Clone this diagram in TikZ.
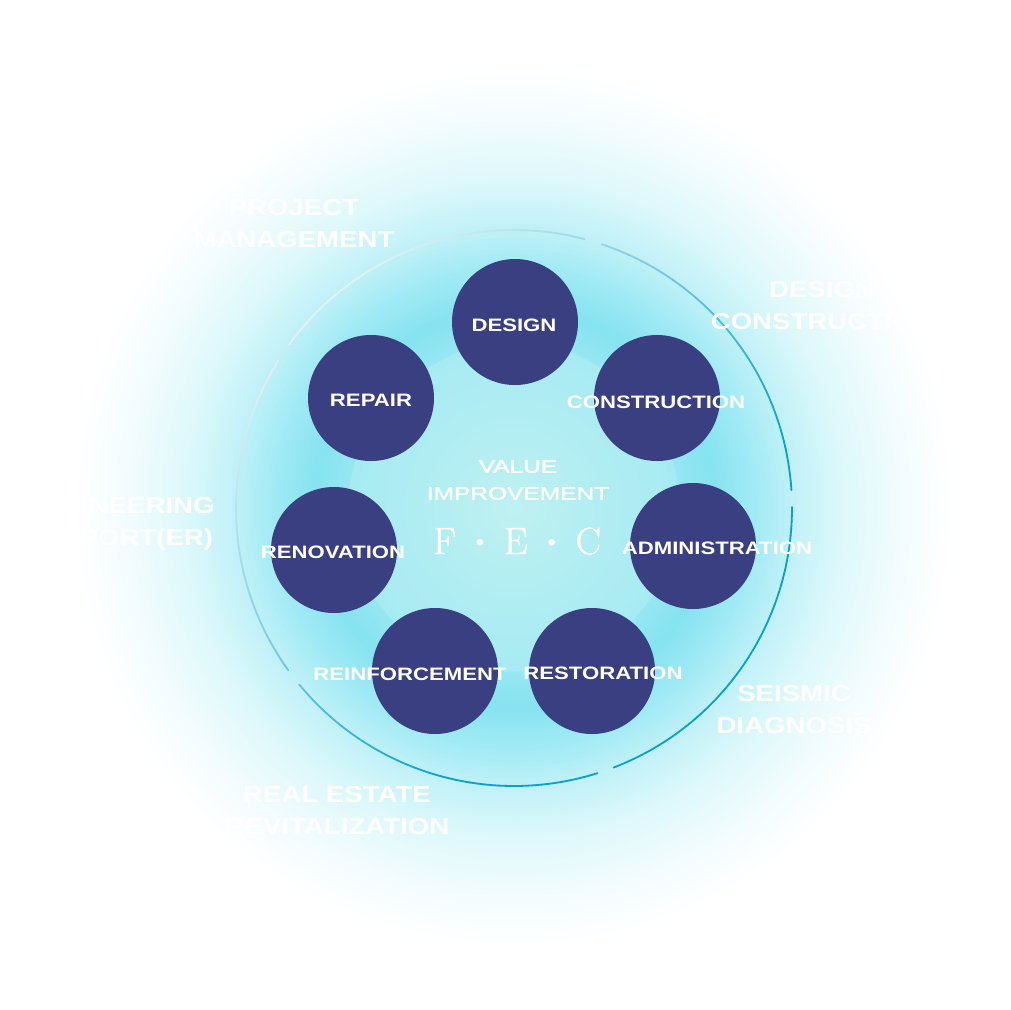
\documentclass[tikz,border=0pt]{standalone}
\usepackage{fontspec}
\usetikzlibrary{calc}
\newfontfamily\lblfont[FakeStretch=1.23]{Liberation Sans Bold}
\newfontfamily\outfont[FakeStretch=1.2]{Liberation Sans Bold}
\newfontfamily\midfont[FakeStretch=1.36,FakeBold=2]{Liberation Sans}
\newfontfamily\fecfont[FakeBold=1]{Latin Modern Roman}
\definecolor{navy}{RGB}{57,63,128}
\definecolor{ringblue}{RGB}{8,160,208}
\definecolor{ringpale}{RGB}{228,242,246}
\definecolor{g0}{RGB}{182,238,243}
\definecolor{g1}{RGB}{157,233,243}
\definecolor{g2}{RGB}{134,227,240}
\definecolor{g3}{RGB}{160,234,244}
\definecolor{g4}{RGB}{192,241,247}
\definecolor{g5}{RGB}{221,248,251}
\definecolor{g6}{RGB}{243,252,254}
\definecolor{p0}{RGB}{192,241,241}
\definecolor{p1}{RGB}{176,237,242}
\definecolor{p2}{RGB}{166,235,242}
\definecolor{p3}{RGB}{150,231,242}
\tikzset{
  bubble/.style={circle, fill=navy, minimum size=126pt, inner sep=0pt},
  lbl/.style={font=\lblfont\fontsize{18}{20}\selectfont, text=white, inner sep=0pt},
  outlbl/.style={font=\outfont\fontsize{23}{32}\selectfont, text=white, align=center, inner sep=0pt},
  midtxt/.style={font=\midfont\fontsize{18}{27}\selectfont, text=white, align=center, inner sep=0pt},
  fectxt/.style={font=\fecfont\fontsize{38}{40}\selectfont, text=white, inner sep=0pt, anchor=base},
  ring/.style={line width=1.8pt, line cap=round}
}
\newcommand{\fecdot}{{\fontsize{72}{72}\selectfont\raisebox{-13pt}{·}}}
\begin{document}
\begin{tikzpicture}[x=1pt,y=-1pt]
\fill[white] (0,0) rectangle (1010,1010);
\useasboundingbox (0,0) rectangle (1010,1010);
\coordinate (O) at (514,508);
% glow (concentric fills)
\foreach \ra/\rb/\ca/\cb in {390/440/g6/white, 330/390/g5/g6, 280/330/g4/g5, 240/280/g3/g4, 200/240/g2/g3, 150/200/g1/g2, 0/150/g0/g1}{
  \foreach \k in {0,...,24}{
    \pgfmathsetmacro{\r}{\rb-(\rb-\ra)*\k/25}
    \pgfmathsetmacro{\q}{100*\k/25}
    \fill[\ca!\q!\cb] (O) circle[radius=\r];
  }
}
% inner lighter heptagon
\coordinate (cDes) at (515,322);
\coordinate (cCon) at (657,398);
\coordinate (cAdm) at (693,546);
\coordinate (cRes) at (592,671);
\coordinate (cRei) at (435,671);
\coordinate (cRen) at (334,550);
\coordinate (cRep) at (371,398);
\begin{scope}
\clip (cDes) -- (cCon) -- (cAdm) -- (cRes) -- (cRei) -- (cRen) -- (cRep) -- cycle;
\foreach \ra/\rb/\ca/\cb in {168/190/p2/p3, 95/168/p1/p2, 0/95/p0/p1}{
  \foreach \k in {0,...,19}{
    \pgfmathsetmacro{\r}{\rb-(\rb-\ra)*\k/20}
    \pgfmathsetmacro{\q}{100*\k/20}
    \fill[\ca!\q!\cb] (O) circle[radius=\r];
  }
}
\end{scope}
% outer ring with gaps
\foreach \s/\e in {3.7/71.6, 75.3/144, 148/215.7, 219.4/287.5, 291/360.2}{
  \pgfmathsetmacro{\n}{int(ceil((\e-\s)/1.5))}
  \pgfmathsetmacro{\d}{(\e-\s)/\n}
  \foreach \k in {1,...,\n}{
    \pgfmathsetmacro{\a}{\s+(\k-1)*\d}
    \pgfmathsetmacro{\b}{\a+\d}
    \pgfmathsetmacro{\m}{(\a+\b)/2}
    \pgfmathsetmacro{\p}{max(0,min(100,130*(1-(cos(\m-135)+1)/2)))}
    \draw[ring, draw=ringblue!\p!ringpale] ($(O)+({278*cos(\a)},{-278*sin(\a)})$) arc[start angle=-\a, end angle=-\b, radius=278];
  }
}
% bubbles
\node[bubble] (bDes) at (cDes) {};
\node[bubble] (bCon) at (cCon) {};
\node[bubble] (bAdm) at (cAdm) {};
\node[bubble] (bRes) at (cRes) {};
\node[bubble] (bRei) at (cRei) {};
\node[bubble] (bRen) at (cRen) {};
\node[bubble] (bRep) at (cRep) {};
% bubble labels
\node[lbl] (tDes) at (514,325) {DESIGN};
\node[lbl] (tCon) at (656,402) {CONSTRUCTION};
\node[lbl] (tAdm) at (717,548) {ADMINISTRATION};
\node[lbl] (tRes) at (603,673) {RESTORATION};
\node[lbl] (tRei) at (410,674) {REINFORCEMENT};
\node[lbl] (tRen) at (333,552) {RENOVATION};
\node[lbl] (tRep) at (371,400) {REPAIR};
% centre text
\node[midtxt] (vi) at (518,480) {VALUE\\IMPROVEMENT};
\node[fectxt] (fec) at (517,554) {F\hspace{-2pt}\fecdot\hspace{-2pt}E\hspace{-2pt}\fecdot\hspace{-2pt}C};
% outer labels
\node[outlbl] (oPM) at (294,224) {PROJECT\\MANAGEMENT};
\node[outlbl] (oDC) at (822,306) {DESIGN\\CONSTRUCTION};
\node[outlbl] (oES) at (118,524) {ENGINEERING\\SUPPORT(ER)};
\node[outlbl] (oSD) at (794,710) {SEISMIC\\DIAGNOSIS};
\node[outlbl] (oRE) at (337,811) {REAL ESTATE\\REVITALIZATION};
\end{tikzpicture}
\end{document}
